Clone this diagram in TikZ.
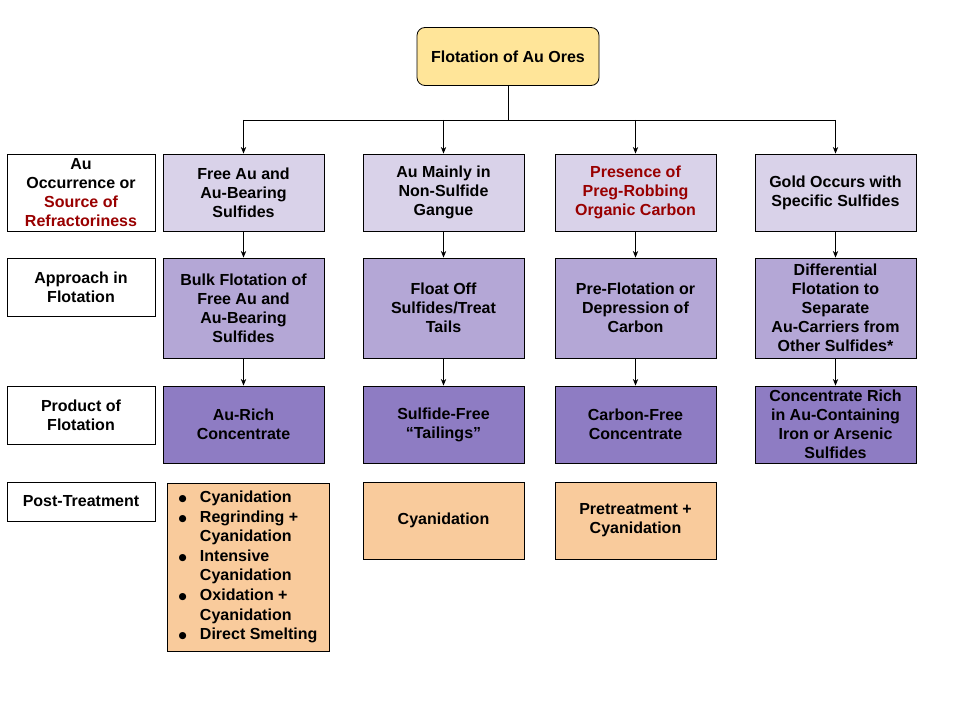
\documentclass[tikz,border=0pt]{standalone}
\usepackage{fontspec}
\setmainfont{Liberation Sans}
\newfontfamily\symfont{DejaVu Sans}
\usetikzlibrary{arrows.meta}
\definecolor{titlefill}{HTML}{FFE599}
\definecolor{rowA}{HTML}{D9D2E9}
\definecolor{rowB}{HTML}{B4A7D6}
\definecolor{rowC}{HTML}{8E7CC3}
\definecolor{postfill}{HTML}{F9CB9C}
\definecolor{darkred}{HTML}{990000}
\newcommand{\rd}[1]{{\color{darkred}#1}}
\newcommand{\bl}{\makebox[16pt][l]{\raisebox{0.6pt}{\symfont\fontsize{7}{7}\selectfont ●}}}
\newcommand{\ind}{\hspace*{16pt}}
\begin{document}
\begin{tikzpicture}[x=0.75pt,y=-0.75pt,
  every node/.style={font=\fontsize{12}{14.25}\selectfont\bfseries, align=center, inner sep=0pt, line width=0.6pt},
  boxbase/.style={draw=black, minimum width=161*0.75pt},
  labelbox/.style={draw=black, fill=white, minimum width=148*0.75pt},
  r1/.style={boxbase, fill=rowA, minimum height=77*0.75pt},
  r2/.style={boxbase, fill=rowB, minimum height=100*0.75pt},
  r3/.style={boxbase, fill=rowC, minimum height=77*0.75pt},
  pst/.style={boxbase, fill=postfill},
  arr/.style={line width=0.6pt, -{Stealth[length=5pt,width=4pt]}},
  ln/.style={line width=0.6pt}]
\useasboundingbox (0,0) rectangle (960,720);
\fill[white] (0,0) rectangle (960,720);

\node[draw=black, fill=titlefill, rounded corners=6pt, minimum width=182*0.75pt, minimum height=58*0.75pt] (title) at (508,56.5) {Flotation of Au Ores};
\coordinate (bus) at (508,120);

% label column
\node[labelbox, minimum height=77*0.75pt] (L1) at (81,192.5) {Au\\Occurrence or\\\rd{Source of}\\\rd{Refractoriness}};
\node[labelbox, minimum height=58*0.75pt] (L2) at (81,287) {Approach in\\Flotation};
\node[labelbox, minimum height=58*0.75pt] (L3) at (81,415) {Product of\\Flotation};
\node[labelbox, minimum height=39*0.75pt] (L4) at (81,501.5) {Post-Treatment};

% row 1
\node[r1] (a1) at (243.5,192.5) {Free Au and\\Au-Bearing\\Sulfides};
\node[r1] (b1) at (443.5,192.5) {Au Mainly in\\Non-Sulfide\\Gangue};
\node[r1] (c1) at (635.5,192.5) {\rd{Presence of}\\\rd{Preg-Robbing}\\\rd{Organic Carbon}};
\node[r1] (d1) at (835.5,192.5) {Gold Occurs with\\Specific Sulfides};

% row 2
\node[r2] (a2) at (243.5,308) {Bulk Flotation of\\Free Au and\\Au-Bearing\\Sulfides};
\node[r2] (b2) at (443.5,308) {Float Off\\Sulfides/Treat\\Tails};
\node[r2] (c2) at (635.5,308) {Pre-Flotation or\\Depression of\\Carbon};
\node[r2] (d2) at (835.5,308) {Differential\\Flotation to\\Separate\\Au-Carriers from\\Other Sulfides*};

% row 3
\node[r3] (a3) at (243.5,424.5) {Au-Rich\\Concentrate};
\node[r3] (b3) at (443.5,424.5) {Sulfide-Free\\“Tailings”};
\node[r3] (c3) at (635.5,424.5) {Carbon-Free\\Concentrate};
\node[r3] (d3) at (835.5,424.5) {Concentrate Rich\\in Au-Containing\\Iron or Arsenic\\Sulfides};

% post-treatment
\node[pst, minimum width=162*0.75pt, minimum height=168*0.75pt, align=left, font=\fontsize{12}{14.7}\selectfont\bfseries] (a4) at (248,567) {\bl Cyanidation\\\bl Regrinding +\\\ind Cyanidation\\\bl Intensive\\\ind Cyanidation\\\bl Oxidation +\\\ind Cyanidation\\\bl Direct Smelting};
\node[pst, minimum height=77*0.75pt] (b4) at (443.5,520.5) {Cyanidation};
\node[pst, minimum height=77*0.75pt] (c4) at (635.5,520.5) {Pretreatment +\\Cyanidation};

% connectors
\draw[ln] (title.south) -- (bus);
\draw[ln] (a1 |- bus) -- (d1 |- bus);
\foreach \n in {a,b,c,d}{
  \draw[arr] (\n1 |- bus) -- (\n1.north);
  \draw[arr] (\n1.south) -- (\n2.north);
  \draw[arr] (\n2.south) -- (\n3.north);
}
\end{tikzpicture}
\end{document}
